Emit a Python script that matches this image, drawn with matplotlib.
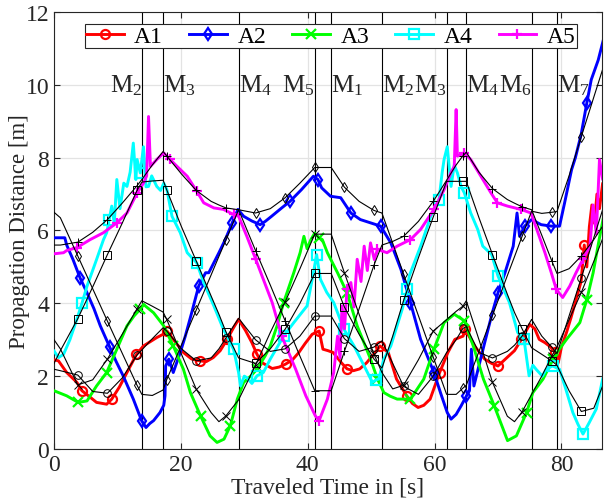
import numpy as np
import matplotlib
matplotlib.use('Agg')
import matplotlib.pyplot as plt

plt.rcParams['font.family'] = ['Liberation Serif', 'DejaVu Serif']
plt.rcParams['mathtext.fontset'] = 'custom'
plt.rcParams['mathtext.rm'] = 'Liberation Serif'
plt.rcParams['mathtext.it'] = 'Liberation Serif:italic'

# measured propagation distances per anchor
t_a1 = [0, 0.7, 2.0, 3.6, 4.4, 5.5, 6.7, 8.3, 9.1, 10.3, 11.5, 13.0, 14.1, 15.2, 16.2, 17.2, 17.8, 18.8,
        20.4, 21.7, 23.0, 24.0, 25.1, 26.2, 27.3, 28.3, 29.1, 30.2, 31.2, 32.0, 32.8, 33.5, 34.4, 35.5,
        36.5, 37.6, 38.6, 39.6, 40.7, 41.8, 42.4, 43.2, 44.0, 45.3, 46.2, 47.2, 48.2, 49.3, 50.4, 51.4,
        52.7, 54.0, 55.6, 56.5, 57.4, 58.3, 59.3, 60.8, 62.1, 63.2, 64.5, 64.8, 66.3, 67.9, 69.0, 70.0,
        71.6, 72.6, 73.7, 75.0, 75.8, 76.5, 77.4, 78.3, 79.0, 79.5, 80.0, 80.8, 81.5, 82.3, 83.1, 83.6,
        84.0, 84.4, 84.8, 85.2, 85.6, 86.0, 86.5, 87.0]
d_a1 = [2.45, 2.42, 2.1, 1.83, 1.6, 1.45, 1.28, 1.23, 1.37, 1.7, 2.1, 2.6, 2.83, 2.95, 3.06, 3.15, 3.24, 3.01,
        2.65, 2.47, 2.42, 2.4, 2.51, 2.7, 3.01, 3.33, 3.56, 3.25, 2.92, 2.6, 2.37, 2.3, 2.21, 2.25,
        2.33, 2.45, 2.65, 2.9, 3.15, 3.24, 2.74, 2.7, 2.65, 2.37, 2.2, 2.15, 2.2, 2.37, 2.6, 2.83,
        2.65, 1.92, 1.46, 1.25, 1.14, 1.2, 1.37, 2.1, 2.65, 3.01, 3.1, 3.29, 2.83, 2.47, 2.35, 2.28,
        2.54, 2.7, 3.01, 3.42, 3.3, 3.01, 2.92, 2.8, 2.65, 2.37, 2.8, 3.2, 3.6, 4.1, 4.6, 5.6,
        5.0, 6.1, 6.7, 6.2, 7.0, 6.6, 7.3, 7.2]

t_a2 = [0, 1.7, 2.0, 3.0, 4.1, 5.2, 6.3, 7.3, 8.8, 9.8, 10.9, 12.5, 13.8, 14.5, 15.1, 15.7, 16.7, 17.3,
        17.5, 17.6, 18.1, 18.8, 19.9, 20.7, 21.7, 22.8, 23.9, 24.4, 26.0, 27.0, 28.1, 29.0, 29.9, 31.2,
        32.5, 33.3, 34.3, 35.9, 37.2, 39.0, 40.9, 41.6, 42.2, 43.6, 45.2, 46.8, 48.3, 49.9, 51.5, 53.1,
        54.7, 56.2, 57.8, 59.9, 61.0, 62.0, 62.6, 63.4, 64.2, 65.0, 65.5, 65.8, 66.2, 67.9, 69.1, 70.0,
        71.1, 72.4, 73.0, 73.4, 74.2, 75.3, 76.8, 78.4, 79.7, 80.5, 81.6, 82.2, 83.1, 84.0, 84.7, 85.8,
        87.0]
d_a2 = [5.8, 5.8, 5.6, 5.2, 4.7, 4.29, 3.85, 3.38, 2.79, 2.4, 2.01, 1.37, 0.78, 0.59, 0.7, 0.78, 1.0, 1.2,
        1.46, 2.28, 2.47, 2.1, 2.65, 3.1, 3.74, 4.47, 4.84, 4.84, 5.39, 5.75, 6.21, 6.58, 6.39, 6.26,
        6.16, 6.25, 6.39, 6.62, 6.8, 7.12, 7.49, 7.4, 7.17, 6.94, 6.9, 6.48, 6.3, 6.21, 6.12, 5.66,
        4.93, 4.02, 3.01, 2.1, 1.51, 1.0, 0.82, 0.95, 1.19, 1.45, 1.6, 2.74, 1.73, 2.92, 3.74, 4.29,
        4.84, 5.57, 6.48, 5.84, 6.12, 6.3, 6.16, 6.12, 6.12, 6.76, 7.67, 8.0, 8.63, 9.5, 10.14, 10.68,
        11.5]

t_a3 = [0, 2.0, 3.8, 5.2, 6.7, 8.3, 9.9, 11.5, 12.6, 13.6, 14.1, 15.7, 17.3, 18.8, 20.4, 21.5, 23.1, 24.6,
        25.7, 26.8, 27.8, 28.9, 29.9, 31.0, 32.0, 33.3, 34.1, 35.2, 36.2, 37.8, 38.8, 39.4, 39.9, 40.5,
        41.1, 41.8, 42.3, 43.1, 44.7, 46.2, 47.8, 49.9, 51.0, 52.0, 53.0, 54.1, 56.2, 58.3, 59.9, 61.5,
        63.1, 64.7, 66.1, 67.7, 69.4, 71.0, 71.5, 72.9, 74.5, 75.5, 77.1, 78.7, 79.5, 80.8, 82.9, 84.0,
        85.0, 86.0, 87.0]
d_a3 = [1.6, 1.46, 1.28, 1.32, 1.73, 2.1, 2.74, 3.38, 3.65, 3.84, 3.97, 3.74, 3.38, 2.83, 2.19, 1.55, 0.91, 0.36,
        0.18, 0.27, 0.64, 1.37, 1.83, 2.0, 2.19, 2.56, 2.83, 3.4, 4.02, 4.84, 5.39, 5.84, 5.5, 5.75,
        5.93, 5.8, 5.75, 5.39, 4.84, 4.29, 3.38, 2.47, 1.92, 1.55, 1.45, 1.37, 1.37, 1.92, 2.74, 3.47,
        3.7, 3.52, 2.83, 1.92, 1.19, 0.46, 0.23, 0.36, 1.0, 1.55, 1.92, 2.47, 2.7, 3.01, 3.47, 4.1,
        4.84, 5.8, 6.7]

t_a4 = [0, 0.7, 1.5, 2.5, 3.6, 4.4, 5.2, 6.7, 7.8, 8.3, 8.7, 9.1, 9.5, 9.9, 10.4, 11.0, 11.5, 12.0,
        12.5, 12.9, 13.1, 13.6, 14.1, 14.5, 14.9, 15.4, 16.2, 16.8, 17.3, 17.8, 18.6, 19.9, 21.0, 22.5,
        23.6, 25.2, 26.7, 28.3, 29.1, 29.4, 30.0, 30.4, 31.2, 32.0, 33.0, 34.1, 36.2, 37.8, 39.9, 40.9,
        41.4, 42.0, 43.0, 44.1, 45.7, 47.3, 48.9, 50.2, 50.8, 51.2, 52.0, 53.1, 54.9, 55.7, 56.0, 57.8,
        59.4, 60.7, 61.2, 61.5, 62.0, 62.6, 63.1, 63.6, 64.2, 64.7, 65.7, 66.8, 67.6, 69.0, 70.0, 71.8,
        73.1, 74.1, 74.9, 75.5, 76.0, 77.0, 77.6, 78.6, 79.7, 80.7, 81.8, 82.6, 83.4, 84.4, 85.5, 86.5,
        87.0]
d_a4 = [2.69, 2.51, 2.6, 3.0, 3.56, 4.0, 4.47, 5.2, 5.75, 5.94, 6.3, 6.67, 6.2, 7.4, 6.6, 7.3, 7.21, 7.6,
        8.4, 7.4, 7.95, 7.58, 8.3, 7.2, 7.21, 7.5, 7.21, 7.1, 7.3, 7.12, 6.39, 5.94, 5.39, 5.11,
        4.57, 3.93, 3.29, 2.74, 2.1, 1.73, 2.0, 1.96, 1.8, 2.01, 2.1, 2.47, 3.1, 3.47, 3.93, 4.84,
        5.34, 4.66, 4.3, 4.02, 3.29, 2.83, 2.28, 1.83, 1.9, 1.92, 2.47, 2.83, 3.84, 4.38, 4.75, 5.57,
        6.39, 6.85, 7.6, 7.95, 8.3, 7.21, 7.8, 7.58, 7.2, 7.03, 6.48, 6.03, 5.57, 5.34, 4.75, 4.02,
        3.2, 3.01, 2.01, 2.3, 2.19, 2.0, 2.19, 2.28, 2.19, 1.64, 1.0, 0.68, 0.41, 0.73, 1.1, 1.92,
        2.19]

t_a5 = [0, 1.5, 2.0, 3.6, 5.7, 7.8, 9.9, 11.5, 13.1, 14.1, 14.6, 14.9, 15.2, 16.2, 17.3, 18.3, 19.4, 21.0,
        22.5, 23.6, 25.2, 26.7, 28.3, 29.1, 30.4, 31.8, 32.8, 34.4, 35.9, 38.1, 39.7, 41.2, 41.8, 42.5,
        43.1, 44.1, 44.7, 45.1, 45.4, 45.8, 46.2, 46.8, 47.3, 47.8, 48.4, 48.9, 49.4, 49.9, 50.5, 51.0,
        52.5, 54.1, 56.2, 57.8, 59.9, 61.5, 62.6, 63.1, 63.4, 63.6, 64.7, 65.7, 67.3, 68.9, 69.9, 71.5,
        73.6, 75.2, 76.5, 77.4, 78.4, 79.2, 80.2, 81.3, 82.3, 83.4, 84.5, 85.0, 85.5, 86.0, 86.5, 87.0]
d_a5 = [5.36, 5.39, 5.45, 5.53, 5.75, 5.94, 6.21, 6.48, 7.03, 7.3, 7.5, 9.13, 7.76, 7.95, 8.13, 7.95, 7.76, 7.49,
        7.08, 6.76, 6.62, 6.58, 6.44, 6.39, 5.84, 5.21, 4.75, 4.02, 3.1, 2.19, 1.46, 0.91, 0.78, 1.1,
        1.37, 2.1, 3.1, 2.5, 3.93, 3.3, 4.4, 4.57, 3.9, 5.21, 4.6, 5.57, 4.9, 5.66, 5.2, 5.48,
        5.39, 5.57, 5.75, 6.03, 6.58, 7.12, 7.6, 7.76, 9.32, 8.04, 8.13, 7.95, 7.49, 7.03, 6.76, 6.67,
        6.58, 6.48, 5.84, 5.39, 4.84, 4.38, 4.16, 4.47, 4.84, 5.21, 5.57, 6.7, 5.9, 7.95, 7.4, 7.8]

# modelled distances on a common time grid
t_model = [0, 1.0, 3.75, 6.1, 8.42, 10.75, 13.09, 13.85, 15.5, 17.2, 17.76, 20.1, 22.43, 24.77, 26.0, 27.10,
           29.1, 31.77, 34.1, 36.44, 38.77, 41.11, 43.7, 45.78, 48.1, 50.45, 51.7, 53.4, 55.12, 57.45, 59.79,
           61.9, 63.4, 64.46, 65.0, 67.0, 69.13, 71.47, 72.6, 73.8, 75.3, 76.9, 78.47, 79.3, 81.2, 83.14,
           85.1, 87.0]
m_a1 = [2.19, 2.15, 2.03, 1.58, 1.53, 1.95, 2.58, 2.72, 3.03, 3.33, 3.24, 2.75, 2.42, 2.5, 2.75, 3.05,
        3.59, 3.0, 2.68, 2.75, 3.1, 3.65, 3.65, 3.03, 2.68, 2.8, 2.97, 2.35, 1.72, 1.5, 2.0,
        2.65, 3.0, 3.31, 3.36, 2.65, 2.5, 2.68, 2.85, 3.1, 3.56, 3.1, 2.8, 2.62, 3.65, 4.7,
        5.8, 6.85]
m_a2 = [6.5, 6.35, 5.3, 4.4, 3.51, 2.63, 1.75, 1.5, 1.47, 1.62, 1.9, 2.86, 3.82, 4.78, 5.29, 5.74,
        6.57, 6.48, 6.6, 6.9, 7.3, 7.73, 7.73, 7.19, 6.8, 6.55, 6.48, 5.65, 4.8, 3.66, 2.52,
        1.5, 1.5, 1.67, 1.75, 2.68, 3.67, 4.76, 5.28, 5.84, 6.53, 6.47, 6.5, 6.52, 7.5, 8.58,
        9.66, 10.7]
m_a3 = [3.0, 2.75, 1.76, 1.9, 2.47, 3.15, 3.85, 4.07, 3.92, 3.76, 3.56, 2.6, 1.64, 1.0, 0.75, 0.91,
        1.35, 2.3, 3.2, 4.04, 4.95, 5.9, 5.9, 4.84, 3.7, 2.6, 2.1, 1.65, 1.75, 2.45, 3.24,
        3.55, 3.78, 3.92, 4.07, 3.0, 1.83, 0.9, 0.75, 1.02, 1.5, 2.0, 2.55, 2.8, 3.55, 4.3,
        5.15, 6.0]
m_a4 = [2.35, 2.7, 3.58, 4.45, 5.34, 6.2, 7.1, 7.33, 7.36, 7.38, 7.12, 6.1, 5.16, 4.2, 3.7, 3.22,
        2.5, 2.35, 2.75, 3.29, 4.0, 4.82, 4.82, 3.9, 3.15, 2.47, 2.22, 3.1, 4.08, 5.25, 6.37,
        7.35, 7.35, 7.35, 7.35, 6.35, 5.34, 4.25, 3.75, 3.3, 2.78, 2.6, 2.42, 2.3, 1.6, 1.03,
        1.12, 1.95]
m_a5 = [5.6, 5.6, 5.68, 5.95, 6.3, 6.75, 7.23, 7.4, 7.8, 8.17, 8.05, 7.55, 7.1, 6.8, 6.7, 6.62,
        6.57, 5.45, 4.5, 3.52, 2.55, 1.6, 1.6, 2.68, 3.85, 5.05, 5.6, 5.7, 5.84, 6.25, 6.8,
        7.38, 7.8, 8.05, 8.15, 7.6, 7.15, 6.85, 6.75, 6.65, 6.57, 5.87, 5.17, 4.82, 4.95, 5.3,
        5.75, 6.25]

# waypoints passed along the route
wp_times = [13.85, 17.2, 29.1, 41.1, 43.7, 51.7, 61.9, 65.0, 75.3, 79.3]
wp_names = ['2', '3', '4', '5', '1', '2', '3', '4', '6', '7']
wp_side = ['right', 'left', 'left', 'right', 'left', 'left', 'right', 'left', 'right', 'left']

labels = ['A1', 'A2', 'A3', 'A4', 'A5']
colors = ['#ff0000', '#0000ff', '#00ff00', '#00ffff', '#ff00ff']
markers = ['o', 'd', 'x', 's', '+']
meas_t = [t_a1, t_a2, t_a3, t_a4, t_a5]
meas_d = [d_a1, d_a2, d_a3, d_a4, d_a5]
models = [m_a1, m_a2, m_a3, m_a4, m_a5]


def nearest_idx(t, times):
    t = np.asarray(t)
    return sorted(set(int(np.abs(t - s).argmin()) for s in times))


fig = plt.figure(figsize=(6.07, 5.02), dpi=100)
ax = fig.add_axes([0.089, 0.1036, 0.9028, 0.8705])

for x in wp_times:
    ax.axvline(x, color='k', lw=0.8, zorder=2)

mark_t = np.arange(4.2, 87, 4.67)
for i in range(5):
    ax.plot(meas_t[i], meas_d[i], color=colors[i], lw=2.1, marker=markers[i], ms=6.5,
            mfc='none', mew=1.6, markevery=nearest_idx(meas_t[i], mark_t),
            label=labels[i], zorder=3)

model_mark_t = np.arange(3.75, 87, 4.67)
midx = nearest_idx(t_model, model_mark_t)
for i in range(5):
    ax.plot(t_model, models[i], color='k', lw=0.8, marker=markers[i], ms=5.5,
            mfc='none', mew=0.7, markevery=midx, zorder=4)

for x, n, side in zip(wp_times, wp_names, wp_side):
    ax.text(x, 10.0, r'M$_{%s}$' % n, ha=side, va='center', fontsize=18, color='#262626')

ax.set_xlim(0, 86.4)
ax.set_ylim(0, 12)
ax.set_xticks([0, 20, 40, 60, 80])
ax.set_yticks([0, 2, 4, 6, 8, 10, 12])
ax.grid(True, color='#e3e3e3', lw=0.9, zorder=0)
ax.set_axisbelow(True)
ax.tick_params(direction='in', top=True, right=True, length=4, width=0.8,
               labelsize=17, colors='#262626')
for s in ax.spines.values():
    s.set_color('#262626')
    s.set_linewidth(0.8)

ax.set_xlabel('Traveled Time in [s]', fontsize=17, color='#262626')
ax.set_ylabel('Propagation Distance [m]', fontsize=16.5, color='#262626')
ax.xaxis.set_label_coords(0.5, -0.062)
ax.yaxis.set_label_coords(-0.043, 0.5)

leg = ax.legend(loc='upper center', bbox_to_anchor=(0.505, 0.972), ncol=5, fontsize=17,
                handlelength=1.6, handletextpad=0.45, columnspacing=1.1, borderaxespad=0,
                borderpad=0.05, fancybox=False, edgecolor='#262626', framealpha=1)
leg.get_frame().set_linewidth(0.8)

fig.savefig('out.png', dpi=100)
